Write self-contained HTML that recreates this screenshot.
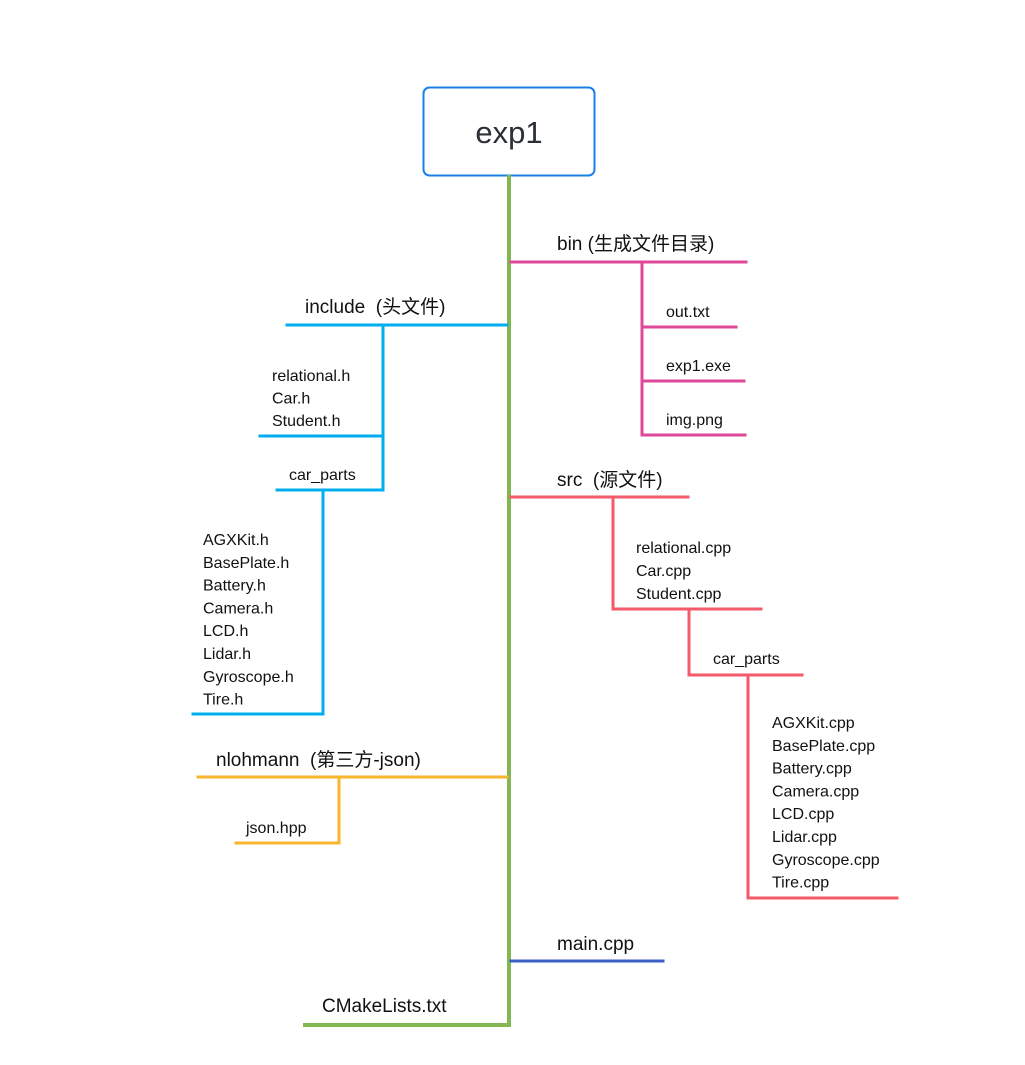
<!DOCTYPE html>
<html><head><meta charset="utf-8"><style>
html,body{margin:0;padding:0;background:#fff;width:1025px;height:1065px;overflow:hidden}
svg text{font-family:"Liberation Sans","Noto Sans CJK SC",sans-serif;fill:#111}
.h{font-size:19px}.f{font-size:16px}
</style></head><body>
<svg width="1025" height="1065" viewBox="0 0 1025 1065">
<g>
<rect x="423.5" y="87.5" width="171" height="88" rx="6" fill="#fff" stroke="#1a7fe6" stroke-width="2"/>
<text x="509" y="143" text-anchor="middle" style="font-size:31px;fill:#2b2f36">exp1</text>
</g>
<g fill="none" stroke-width="3" stroke-linecap="square">
<path d="M509 177V1025H305" stroke="#82b752" stroke-width="4"/>
<g stroke="#e0489a">
<path d="M511 262H746M642 262V435M642 327H736M642 381H744M642 435H745"/>
</g>
<g stroke="#00aeef">
<path d="M507 325H287M383 325V490M383 436H260M383 490H277M323 490V714H193"/>
</g>
<g stroke="#f55a6a">
<path d="M511 497H688M613 497V609H761M689 609V675H802M748 675V898H897"/>
</g>
<g stroke="#f8b62d">
<path d="M507 777H198M339 777V843H236"/>
</g>
<path d="M511 961H663" stroke="#3a5fc8"/>
</g>
<text class="h" x="557" y="250">bin (生成文件目录)</text>
<text class="f" x="666" y="317">out.txt</text>
<text class="f" x="666" y="371">exp1.exe</text>
<text class="f" x="666" y="425">img.png</text>
<text class="h" x="305" y="313">include&#160;&#160;(头文件)</text>
<text class="f" x="272" y="381"><tspan x="272">relational.h</tspan><tspan x="272" dy="22.5">Car.h</tspan><tspan x="272" dy="22.5">Student.h</tspan></text>
<text class="f" x="289" y="480">car_parts</text>
<text class="f" x="203" y="545"><tspan x="203">AGXKit.h</tspan><tspan x="203" dy="22.8">BasePlate.h</tspan><tspan x="203" dy="22.8">Battery.h</tspan><tspan x="203" dy="22.8">Camera.h</tspan><tspan x="203" dy="22.8">LCD.h</tspan><tspan x="203" dy="22.8">Lidar.h</tspan><tspan x="203" dy="22.8">Gyroscope.h</tspan><tspan x="203" dy="22.8">Tire.h</tspan></text>
<text class="h" x="557" y="486">src&#160;&#160;(源文件)</text>
<text class="f" x="636" y="553"><tspan x="636">relational.cpp</tspan><tspan x="636" dy="23">Car.cpp</tspan><tspan x="636" dy="23">Student.cpp</tspan></text>
<text class="f" x="713" y="664">car_parts</text>
<text class="f" x="772" y="728"><tspan x="772">AGXKit.cpp</tspan><tspan x="772" dy="22.8">BasePlate.cpp</tspan><tspan x="772" dy="22.8">Battery.cpp</tspan><tspan x="772" dy="22.8">Camera.cpp</tspan><tspan x="772" dy="22.8">LCD.cpp</tspan><tspan x="772" dy="22.8">Lidar.cpp</tspan><tspan x="772" dy="22.8">Gyroscope.cpp</tspan><tspan x="772" dy="22.8">Tire.cpp</tspan></text>
<text class="h" x="216" y="766">nlohmann&#160;&#160;(第三方-json)</text>
<text class="f" x="246" y="833">json.hpp</text>
<text class="h" x="557" y="950">main.cpp</text>
<text class="h" x="322" y="1012">CMakeLists.txt</text>
</svg>
</body></html>
